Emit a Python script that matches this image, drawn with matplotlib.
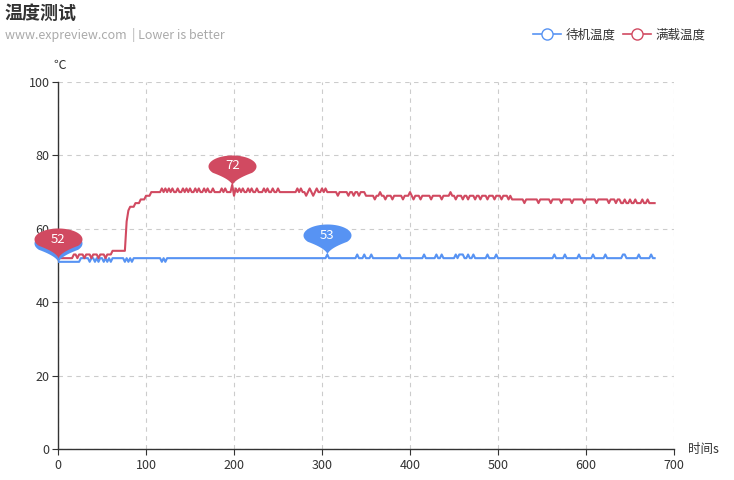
import numpy as np
import matplotlib
matplotlib.use('Agg')
import matplotlib.pyplot as plt
from matplotlib.path import Path
from matplotlib.lines import Line2D

plt.rcParams['font.family'] = ['Noto Sans CJK SC', 'DejaVu Sans']

idle_color = '#5793f3'
load_color = '#d14a61'

# samples every 2 s
t_end = 678

# idle: level changes and single-sample spikes
idle_step_t = [0, 25]
idle_step_v = [51, 52]
idle_spike_t = [36, 42, 46, 52, 56, 60, 76, 80, 84, 118, 122,
                306, 340, 348, 356, 388, 416, 430, 436, 452, 456, 458, 460,
                466, 472, 488, 498, 564, 576, 592, 608, 622, 642, 644, 660, 674]
idle_spike_v = [51, 51, 51, 51, 51, 51, 51, 51, 51, 51, 51,
                53, 53, 53, 53, 53, 53, 53, 53, 53, 53, 53, 53,
                53, 53, 53, 53, 53, 53, 53, 53, 53, 53, 53, 53, 53]

# full load
load_step_t = [0, 18, 62, 78, 80, 82, 88, 94, 100, 106, 350, 448, 516, 640]
load_step_v = [52, 53, 54, 62, 65, 66, 67, 68, 69, 70, 69, 69, 68, 67]
load_spike_t = [22, 30, 38, 46, 54,
                118, 122, 126, 130, 136, 142, 146, 150, 156, 160, 166, 170,
                176, 186, 190, 198, 200, 202, 206, 210, 216, 220, 226,
                234, 238, 244, 250, 272, 276, 282, 286, 290, 294,
                300, 304, 318, 330, 336, 342,
                360, 366, 372, 380, 392, 400, 404, 412, 424, 436, 446,
                452, 460, 466, 474, 480, 488, 496, 504, 512,
                530, 546, 560, 572, 584, 598, 612, 626, 634,
                644, 650, 656, 664, 670]
load_spike_v = [52, 52, 52, 52, 52,
                71, 71, 71, 71, 71, 71, 71, 71, 71, 71, 71, 71,
                71, 71, 71, 72, 69, 71, 71, 71, 71, 71, 71,
                71, 71, 71, 71, 71, 71, 69, 71, 69, 71,
                71, 71, 69, 69, 69, 69,
                68, 70, 68, 68, 68, 70, 68, 68, 68, 68, 70,
                68, 68, 68, 68, 68, 68, 68, 68, 68,
                67, 67, 67, 67, 67, 67, 67, 67, 67,
                68, 68, 68, 68, 68]

# mark points, drawn back to front; the idle minimum pin sits behind the load one
pin_t = [0, 0, 198, 306]
pin_v = [51, 52, 72, 53]
pin_c = [idle_color, load_color, load_color, idle_color]
pin_label = ['', '52', '72', '53']

x_ticks = [0, 100, 200, 300, 400, 500, 600, 700]
y_ticks = [0, 20, 40, 60, 80, 100]


def build_series(step_t, step_v, spike_t, spike_v):
    t = np.arange(0, t_end + 1, 2)
    idx = np.searchsorted(step_t, t, side='right') - 1
    v = np.array(step_v, dtype=float)[idx]
    for st, sv in zip(spike_t, spike_v):
        v[int(round(st / 2))] = sv
    return t, v


def pin_path():
    # tip at origin, balloon above (pixel units)
    rx, ry, cy = 24.0, 11.0, 19.0
    a0 = np.deg2rad(-35)
    angles = np.linspace(a0, np.pi - a0, 60)
    ex = rx * np.cos(angles)
    ey = cy + ry * np.sin(angles)
    s = np.linspace(0, 1, 15)
    tip = np.array([0.0, 0.0])
    p0 = np.array([ex[-1], ey[-1]])
    c = np.array([-1.5, 6.0])
    left = [(1 - u) ** 2 * p0 + 2 * u * (1 - u) * c + u ** 2 * tip for u in s]
    p1 = np.array([ex[0], ey[0]])
    c2 = np.array([1.5, 6.0])
    right = [(1 - u) ** 2 * tip + 2 * u * (1 - u) * c2 + u ** 2 * p1 for u in s[1:]]
    verts = list(zip(ex, ey)) + [tuple(p) for p in left[1:]] + [tuple(p) for p in right]
    verts.append(verts[0])
    codes = [Path.MOVETO] + [Path.LINETO] * (len(verts) - 2) + [Path.CLOSEPOLY]
    return Path(verts, codes)


fig = plt.figure(figsize=(7.34, 4.8), dpi=100)
ax = fig.add_axes([58 / 734, 31 / 480, 616 / 734, 367 / 480])

t_idle, v_idle = build_series(idle_step_t, idle_step_v, idle_spike_t, idle_spike_v)
t_load, v_load = build_series(load_step_t, load_step_v, load_spike_t, load_spike_v)

ax.plot(t_idle, v_idle, color=idle_color, lw=1.5, zorder=3)
ax.plot(t_load, v_load, color=load_color, lw=1.5, zorder=3)

ax.set_xlim(0, 700)
ax.set_ylim(0, 100)
ax.set_xticks(x_ticks)
ax.set_yticks(y_ticks)
ax.grid(True, ls=(0, (4, 4)), color='#cccccc', lw=0.8)
for s in ['top', 'right']:
    ax.spines[s].set_visible(False)
for s in ['left', 'bottom']:
    ax.spines[s].set_color('#333333')
    ax.spines[s].set_linewidth(1.0)
ax.tick_params(axis='both', colors='#333333', labelsize=9, length=4, width=0.8)
ax.tick_params(axis='y', pad=2)

mk = pin_path()
px_to_pt = 72 / fig.dpi
for i, (t, v, c, lab) in enumerate(zip(pin_t, pin_v, pin_c, pin_label)):
    ax.plot([t], [v], marker=mk, markersize=2 * 30 * px_to_pt, color=c,
            markeredgewidth=0, linestyle='none', clip_on=False, zorder=5 + 2 * i)
    if lab:
        ax.annotate(lab, xy=(t, v), xytext=(0, 19 * px_to_pt), textcoords='offset points',
                    ha='center', va='center', color='white', fontsize=9.5,
                    zorder=6 + 2 * i, annotation_clip=False)

fig.text(5 / 734, 1 - 13 / 480, '温度测试', fontsize=13, fontweight='bold',
         color='#333333', va='center', ha='left')
fig.text(5 / 734, 1 - 35 / 480, 'www.expreview.com  | Lower is better', fontsize=9,
         color='#aaaaaa', va='center', ha='left')
fig.text(53 / 734, 1 - 65 / 480, '℃', fontsize=9, color='#333333', va='center', ha='left')
fig.text(688 / 734, 1 - 449 / 480, '时间s', fontsize=9, color='#333333', va='center', ha='left')

handles = [Line2D([], [], color=idle_color, marker='o', markersize=8,
                  markerfacecolor='white', lw=1.2),
           Line2D([], [], color=load_color, marker='o', markersize=8,
                  markerfacecolor='white', lw=1.2)]
fig.legend(handles, ['待机温度', '满载温度'], loc='center right',
           bbox_to_anchor=(717 / 734, 1 - 35 / 480), ncol=2, frameon=False,
           fontsize=9, handlelength=2.2, handletextpad=0.4, columnspacing=0.6,
           labelcolor='#333333')

fig.savefig('out.png', dpi=100)
